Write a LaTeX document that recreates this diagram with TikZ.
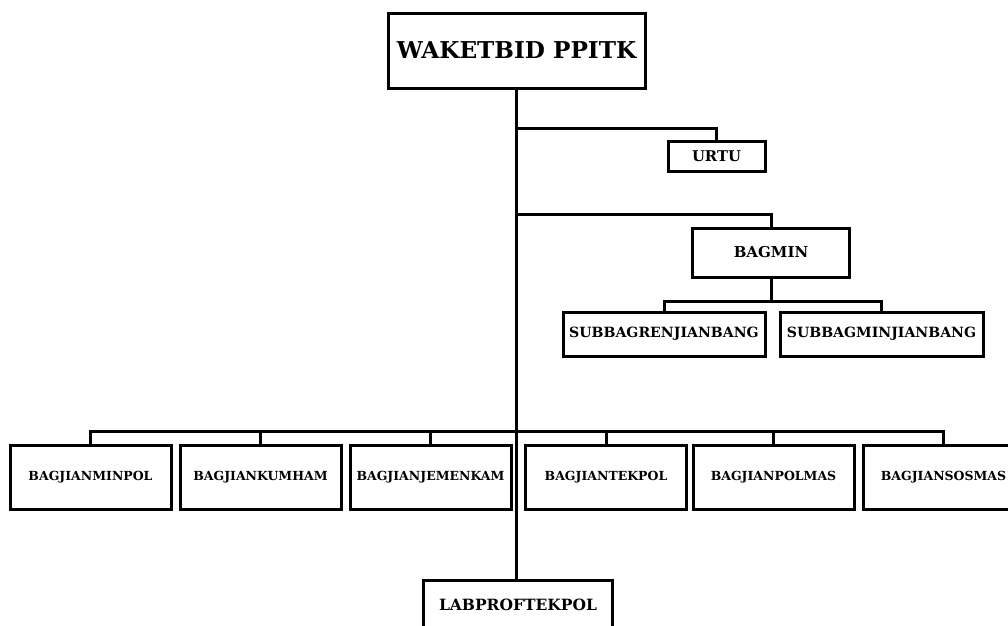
\documentclass[tikz,border=0pt]{standalone}
\usepackage{fontspec}
\setmainfont{DejaVu Serif}
\usetikzlibrary{shadows}
\begin{document}
\begin{tikzpicture}[x=1pt,y=-1pt,
  box/.style={draw, line width=3pt, fill=white, inner sep=0pt, align=center,
    font=\bfseries, drop shadow={opacity=0.3, shadow xshift=1.5pt, shadow yshift=-1.5pt}},
  link/.style={line width=3pt}]
\useasboundingbox (0,0) rectangle (1008,625);

% head of the organisation
\node[box, minimum width=257, minimum height=75, font=\bfseries\fontsize{23.2}{26}\selectfont] (top) at (516.5,50.5) {WAKETBID PPITK};

% staff units on the right
\node[box, minimum width=97, minimum height=30, font=\bfseries\fontsize{14.8}{17}\selectfont] (urtu) at (716.5,156) {URTU};
\node[box, minimum width=157, minimum height=49, font=\bfseries\fontsize{15}{17}\selectfont] (bagmin) at (771,252.5) {BAGMIN};
\node[box, minimum width=202, minimum height=44, font=\bfseries\fontsize{14.1}{16}\selectfont] (sub1) at (664,334) {SUBBAGRENJIANBANG};
\node[box, minimum width=203, minimum height=44, font=\bfseries\fontsize{14.1}{16}\selectfont] (sub2) at (881.5,334) {SUBBAGMINJIANBANG};

% section row
\begin{scope}[every node/.style={box, minimum width=161, minimum height=64, font=\bfseries\fontsize{12.5}{15}\selectfont}]
\node (b1) at (90.5,477) {BAGJIANMINPOL};
\node (b2) at (260.5,477) {BAGJIANKUMHAM};
\node (b3) at (430.5,477) {BAGJIANJEMENKAM};
\node (b4) at (606,477) {BAGJIANTEKPOL};
\node (b5) at (773.5,477) {BAGJIANPOLMAS};
\node (b6) at (943.5,477) {BAGJIANSOSMAS};
\end{scope}

% laboratory
\node[box, minimum width=189, minimum height=50, font=\bfseries\fontsize{15.5}{18}\selectfont] (lab) at (518,605) {LABPROFTEKPOL};

% junction points on the trunk
\coordinate (ju) at (517,128);
\coordinate (jb) at (517,214);
\coordinate (js) at (771,301);
\coordinate (bus) at (517,431);

% trunk
\draw[link] (top.south) -- (top.south |- lab.north);
% branches
\draw[link] (ju) -| (urtu.north);
\draw[link] (jb) -| (bagmin.north);
\draw[link] (bagmin.south) -- (js);
\draw[link] (sub1.north) |- (js) -| (sub2.north);
\draw[link] (b1.north) |- (bus) -| (b6.north);
\foreach \n in {b2,b3,b4,b5}
  \draw[link] (\n.north) -- (\n.north |- bus);
\end{tikzpicture}
\end{document}
